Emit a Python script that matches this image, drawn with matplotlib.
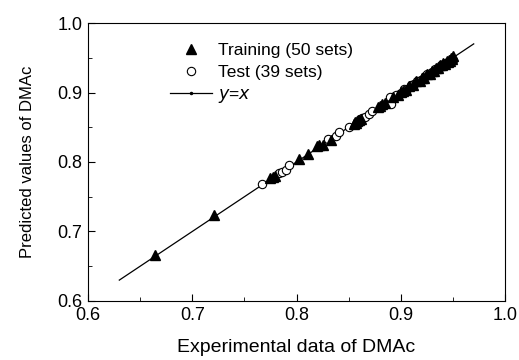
import numpy as np
import matplotlib.pyplot as plt
from matplotlib.ticker import MultipleLocator
from matplotlib.lines import Line2D

plt.rcParams['font.family'] = ['Liberation Sans', 'DejaVu Sans']

# training set (50)
train_x = [0.664, 0.721, 0.775, 0.777, 0.779, 0.802, 0.811, 0.820, 0.822, 0.825,
           0.833, 0.855, 0.856, 0.857, 0.858, 0.859, 0.860, 0.862, 0.878, 0.880,
           0.882, 0.885, 0.893, 0.897, 0.900, 0.902, 0.905, 0.908, 0.912, 0.915,
           0.918, 0.920, 0.922, 0.925, 0.928, 0.930, 0.932, 0.934, 0.936, 0.938,
           0.940, 0.941, 0.942, 0.944, 0.945, 0.946, 0.947, 0.948, 0.949, 0.950]
train_y = [0.666, 0.724, 0.777, 0.778, 0.780, 0.804, 0.812, 0.823, 0.825, 0.824,
           0.832, 0.855, 0.857, 0.856, 0.859, 0.860, 0.861, 0.862, 0.879, 0.881,
           0.883, 0.885, 0.894, 0.896, 0.901, 0.902, 0.904, 0.909, 0.911, 0.916,
           0.917, 0.921, 0.921, 0.926, 0.927, 0.931, 0.931, 0.935, 0.936, 0.939,
           0.940, 0.942, 0.941, 0.945, 0.944, 0.947, 0.946, 0.949, 0.948, 0.952]

# test set (39)
test_x = [0.767, 0.783, 0.786, 0.790, 0.793, 0.830, 0.838, 0.841, 0.850, 0.858,
          0.863, 0.866, 0.870, 0.872, 0.890, 0.891, 0.895, 0.900, 0.903, 0.906,
          0.910, 0.913, 0.916, 0.919, 0.921, 0.923, 0.925, 0.927, 0.930, 0.933,
          0.935, 0.937, 0.939, 0.941, 0.943, 0.945, 0.947, 0.949, 0.950]
test_y = [0.768, 0.784, 0.786, 0.789, 0.795, 0.833, 0.837, 0.843, 0.850, 0.857,
          0.864, 0.865, 0.869, 0.873, 0.894, 0.884, 0.896, 0.899, 0.905, 0.905,
          0.911, 0.912, 0.917, 0.918, 0.920, 0.924, 0.926, 0.926, 0.929, 0.934,
          0.934, 0.936, 0.940, 0.940, 0.942, 0.944, 0.946, 0.948, 0.947]

line_x = [0.63, 0.97]

fig = plt.figure(figsize=(5.19, 3.6), dpi=100)
ax = fig.add_axes([0.1696, 0.164, 0.8034, 0.772])

ax.plot(line_x, line_x, color='black', lw=0.9, zorder=1)
ax.plot(train_x, train_y, linestyle='none', marker='^', color='black',
        markersize=7.5, zorder=3)
ax.plot(test_x, test_y, linestyle='none', marker='o', mfc='white', mec='black',
        mew=0.8, markersize=6, zorder=2)

ax.set_xlim(0.6, 1.0)
ax.set_ylim(0.6, 1.0)
ax.xaxis.set_major_locator(MultipleLocator(0.1))
ax.yaxis.set_major_locator(MultipleLocator(0.1))
ax.xaxis.set_minor_locator(MultipleLocator(0.05))
ax.yaxis.set_minor_locator(MultipleLocator(0.05))
ax.tick_params(which='both', direction='in', top=False, right=False, labelsize=13)
ax.tick_params(which='major', length=5, pad=4)
ax.tick_params(which='minor', length=3)
ax.xaxis.set_major_formatter(plt.FormatStrFormatter('%.1f'))
ax.yaxis.set_major_formatter(plt.FormatStrFormatter('%.1f'))

ax.set_xlabel('Experimental data of DMAc', fontsize=14, labelpad=11)
ax.set_ylabel('Predicted values of DMAc', fontsize=12, labelpad=16)

handles = [Line2D([], [], linestyle='none', marker='^', color='black', markersize=7.5),
           Line2D([], [], linestyle='none', marker='o', mfc='white', mec='black',
                  mew=0.8, markersize=6),
           Line2D([], [], color='black', lw=0.9, marker='.', markersize=3)]
ax.legend(handles, ['Training (50 sets)', 'Test (39 sets)', '$y$=$x$'],
          loc='upper left', bbox_to_anchor=(0.16, 0.985), frameon=False,
          fontsize=12.5, handlelength=2.4, labelspacing=0.4, handletextpad=0.35)

fig.savefig('out.png', dpi=100)
